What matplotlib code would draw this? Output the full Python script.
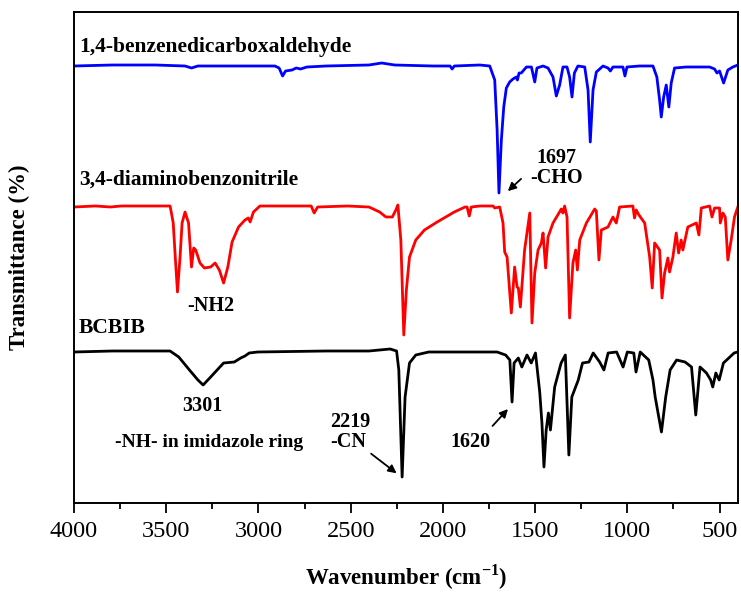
import matplotlib
matplotlib.use("Agg")
import matplotlib.pyplot as plt
from matplotlib.ticker import MultipleLocator

plt.rcParams["font.family"] = ["Liberation Serif", "DejaVu Serif"]

# spectra (wavenumber, offset transmittance)
blue_wn = [4000, 3791, 3560, 3398, 3363, 3328, 3096, 2911, 2888, 2869, 2853, 2818, 2795, 2772, 2737,
           2633, 2401, 2332, 2262, 2054, 1961, 1950, 1938, 1800, 1746, 1719, 1706, 1696, 1683, 1670,
           1656, 1638, 1620, 1602, 1596, 1587, 1575, 1547, 1520, 1502, 1490, 1457, 1430, 1403, 1385,
           1367, 1349, 1327, 1313, 1300, 1287, 1268, 1231, 1213, 1201, 1186, 1168, 1132, 1105, 1092,
           1078, 1024, 1013, 1002, 934, 861, 840, 825, 816, 803, 789, 775, 762, 744, 681, 554, 527,
           514, 500, 478, 455, 428, 401]
blue_t = [437, 438, 438, 437, 435, 437, 437, 437, 435, 427, 432, 433, 435, 434, 436,
          437, 438, 440, 438, 437, 437, 434, 437, 438, 437, 423, 373, 310, 363, 396,
          415, 421, 424, 426, 423, 430, 430, 436, 436, 421, 435, 437, 435, 426, 407,
          418, 436, 436, 426, 406, 430, 437, 436, 413, 361, 413, 431, 437, 435, 432,
          436, 436, 427, 436, 437, 437, 426, 403, 386, 406, 418, 396, 420, 435, 436, 436, 434,
          430, 432, 420, 433, 436, 438]

red_wn = [4000, 3884, 3803, 3745, 3560, 3479, 3462, 3451, 3439, 3425, 3414, 3398, 3379, 3363, 3351,
          3340, 3317, 3293, 3259, 3235, 3212, 3189, 3166, 3143, 3108, 3073, 3055, 3045, 3027, 2992,
          2865, 2714, 2698, 2679, 2517, 2401, 2343, 2309, 2274, 2255, 2244, 2228, 2212, 2198, 2181,
          2147, 2100, 2031, 1938, 1880, 1869, 1857, 1846, 1800, 1728, 1719, 1692, 1674, 1665, 1652,
          1629, 1611, 1598, 1591, 1580, 1557, 1529, 1517, 1502, 1484, 1466, 1457, 1443, 1430, 1403,
          1358, 1349, 1340, 1327, 1313, 1295, 1280, 1271, 1258, 1222, 1177, 1168, 1154, 1141, 1105,
          1078, 1060, 1042, 970, 961, 952, 937, 906, 879, 865, 852, 825, 812, 798, 780, 771, 753,
          735, 722, 708, 699, 672, 626, 612, 599, 554, 541, 527, 500, 496, 482, 469, 455, 437, 419, 401]
red_t = [296, 297, 296, 297, 297, 297, 280, 246, 211, 246, 280, 291, 280, 236, 255,
         253, 240, 235, 236, 240, 233, 220, 236, 261, 276, 283, 285, 281, 291, 297,
         297, 297, 290, 296, 297, 296, 291, 286, 286, 293, 298, 263, 168, 213, 246,
         263, 273, 281, 291, 296, 296, 287, 296, 297, 297, 295, 296, 280, 251, 246,
         190, 236, 216, 215, 196, 253, 290, 180, 230, 253, 260, 270, 235, 266, 280,
         294, 290, 297, 286, 185, 240, 253, 233, 263, 280, 294, 292, 243, 273, 276,
         286, 280, 296, 297, 285, 293, 288, 280, 246, 215, 260, 253, 205, 230, 245, 231, 246,
         270, 250, 263, 253, 276, 280, 268, 295, 297, 286, 295, 295, 280, 290, 286, 243, 263, 286, 296]

black_wn = [4000, 3791, 3560, 3479, 3432, 3374, 3328, 3300, 3259, 3189, 3131, 3096, 3073, 3050, 3004,
            2633, 2401, 2286, 2251, 2239, 2221, 2205, 2181, 2147, 2077, 1706, 1660, 1637, 1625, 1614,
            1591, 1572, 1544, 1521, 1498, 1475, 1463, 1452, 1440, 1428, 1417, 1394, 1359, 1336, 1317,
            1301, 1266, 1243, 1208, 1185, 1150, 1127, 1104, 1058, 1023, 1000, 965, 953, 930, 884,
            861, 849, 815, 792, 768, 733, 687, 652, 629, 606, 571, 548, 537, 520, 502, 479, 444, 421, 402]
black_t = [151, 152, 152, 152, 146, 133, 123, 118, 126, 140, 141, 145, 147, 150, 151,
           152, 152, 154, 152, 133, 26, 106, 140, 148, 151, 151, 148, 143, 101, 140,
           145, 136, 148, 140, 150, 111, 80, 36, 73, 90, 73, 116, 140, 148, 48,
           106, 123, 140, 141, 150, 141, 133, 150, 151, 136, 151, 150, 131, 151, 143,
           123, 106, 71, 106, 133, 143, 141, 136, 88, 136, 130, 123, 116, 130, 123, 140, 146, 150, 151]

fig = plt.figure(figsize=(7.41, 5.93), dpi=100)
ax = fig.add_axes([74 / 741, 90 / 593, 664 / 741, 491 / 593])

line_kw = dict(lw=2.0, solid_joinstyle="round")
ax.plot(blue_wn, blue_t, color="#0000ff", **line_kw)
ax.plot(red_wn, red_t, color="#ff0000", **line_kw)
ax.plot(black_wn, black_t, color="black", **line_kw)

ax.set_xlim(4000, 400)
ax.set_ylim(0, 491)
ax.set_yticks([])
ax.xaxis.set_major_locator(MultipleLocator(500))
ax.xaxis.set_minor_locator(MultipleLocator(250))
ax.tick_params(axis="x", which="major", direction="out", length=7, width=1.3, labelsize=17.5, pad=6)
ax.tick_params(axis="x", which="minor", direction="out", length=4, width=1.3)
for s in ax.spines.values():
    s.set_linewidth(1.4)

ax.set_xlabel("Wavenumber (cm$^{\\mathregular{-1}}$)", fontsize=16.5, fontweight="bold", labelpad=15)
ax.set_ylabel("Transmittance (%)", fontsize=16.5, fontweight="bold", labelpad=32)

# sample names
nk = dict(fontsize=15.5, fontweight="bold", ha="left", va="baseline")
ax.text(3973, 451, "1,4-benzenedicarboxaldehyde", **nk)
ax.text(3973, 318, "3,4-diaminobenzonitrile", **nk)
ax.text(3973, 170, "BCBIB", **nk)

# peak labels
pk = dict(fontsize=14.5, fontweight="bold", va="baseline", linespacing=1.0)
ax.text(3387, 192, "-NH2", ha="left", **pk)
ax.text(1385, 320, "1697\n-CHO", ha="center", multialignment="center", **pk)
ax.text(3305, 92, "3301", ha="center", **pk)
ax.text(3780, 56, "-NH- in imidazole ring", ha="left", fontsize=14, fontweight="bold", va="baseline")
ax.text(2610, 56, "2219\n-CN", ha="left", multialignment="left", **pk)
ax.text(1852, 56, "1620", ha="center", **pk)

arr = dict(arrowstyle="-|>", color="black", lw=1.3, mutation_scale=12)
ax.annotate("", xy=(1659, 310), xytext=(1565, 326), arrowprops=arr)
ax.annotate("", xy=(2239, 28), xytext=(2401, 51), arrowprops=arr)
ax.annotate("", xy=(1637, 96), xytext=(1741, 75), arrowprops=arr)

fig.savefig("out.png", dpi=100)
